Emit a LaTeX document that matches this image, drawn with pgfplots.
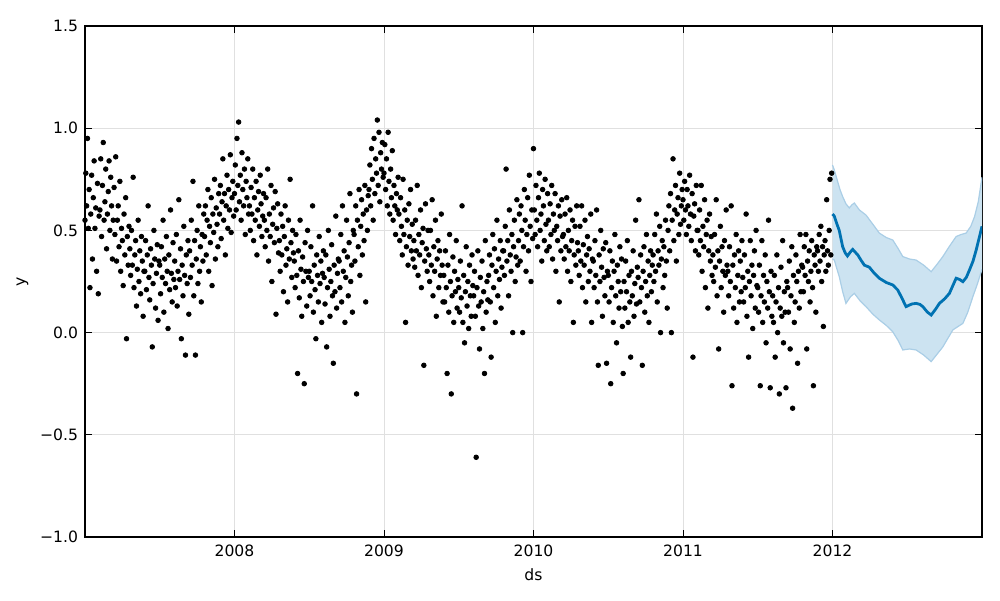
\documentclass[border=0pt]{standalone}
\usepackage{pgfplots}
\pgfplotsset{compat=1.18}
\usepackage{pgfplotstable}
\usepgfplotslibrary{fillbetween}
\usepackage{fontspec}
\setmainfont{DejaVu Sans}
\definecolor{fc}{RGB}{0,114,178}
\definecolor{band}{RGB}{204,227,241}
\definecolor{bandedge}{RGB}{170,206,230}
\definecolor{gridc}{RGB}{224,224,224}

\pgfplotstableread[row sep=\\]{
y\\
0.55\\ 0.78\\ 0.62\\ 0.95\\ 0.51\\ 0.70\\ 0.22\\ 0.58\\ 0.77\\ 0.36\\ 0.66\\ 0.84\\ 0.51\\ 0.61\\ 0.30\\ 0.73\\ 0.19\\ 0.57\\
0.60\\ 0.85\\ 0.47\\ 0.72\\ 0.93\\ 0.55\\ 0.64\\ 0.80\\ 0.41\\ 0.58\\ 0.69\\ 0.84\\ 0.50\\ 0.76\\ 0.62\\ 0.36\\ 0.55\\ 0.71\\
0.48\\ 0.86\\ 0.35\\ 0.55\\ 0.62\\ 0.42\\ 0.74\\ 0.30\\ 0.51\\ 0.45\\ 0.23\\ 0.58\\ 0.38\\ 0.66\\ -0.03\\ 0.47\\ 0.33\\ 0.52\\
0.41\\ 0.28\\ 0.50\\ 0.33\\ 0.76\\ 0.22\\ 0.38\\ 0.45\\ 0.13\\ 0.31\\ 0.55\\ 0.25\\ 0.40\\ 0.19\\ 0.47\\ 0.35\\ 0.08\\ 0.30\\
0.30\\ 0.45\\ 0.21\\ 0.38\\ 0.62\\ 0.27\\ 0.16\\ 0.41\\ 0.33\\ -0.07\\ 0.24\\ 0.50\\ 0.36\\ 0.12\\ 0.29\\ 0.43\\ 0.06\\ 0.35\\
0.33\\ 0.19\\ 0.42\\ 0.27\\ 0.55\\ 0.10\\ 0.36\\ 0.24\\ 0.47\\ 0.30\\ 0.02\\ 0.38\\ 0.21\\ 0.60\\ 0.29\\ 0.15\\ 0.44\\ 0.26\\
0.35\\ 0.22\\ 0.48\\ 0.13\\ 0.30\\ 0.65\\ 0.26\\ 0.41\\ -0.03\\ 0.33\\ 0.18\\ 0.52\\ 0.28\\ -0.11\\ 0.38\\ 0.24\\ 0.45\\ 0.09\\
0.40\\ 0.27\\ 0.55\\ 0.33\\ 0.74\\ 0.18\\ 0.45\\ -0.11\\ 0.36\\ 0.50\\ 0.24\\ 0.62\\ 0.30\\ 0.42\\ 0.15\\ 0.48\\ 0.35\\ 0.58\\
0.47\\ 0.62\\ 0.38\\ 0.55\\ 0.70\\ 0.30\\ 0.52\\ 0.44\\ 0.66\\ 0.23\\ 0.58\\ 0.49\\ 0.75\\ 0.36\\ 0.61\\ 0.53\\ 0.42\\ 0.68\\
0.58\\ 0.72\\ 0.46\\ 0.64\\ 0.85\\ 0.55\\ 0.68\\ 0.38\\ 0.62\\ 0.77\\ 0.51\\ 0.70\\ 0.60\\ 0.87\\ 0.49\\ 0.66\\ 0.74\\ 0.57\\
0.68\\ 0.82\\ 0.60\\ 0.95\\ 0.72\\ 1.03\\ 0.64\\ 0.77\\ 0.55\\ 0.88\\ 0.70\\ 0.62\\ 0.80\\ 0.48\\ 0.74\\ 0.66\\ 0.85\\ 0.58\\
0.62\\ 0.50\\ 0.71\\ 0.58\\ 0.80\\ 0.45\\ 0.66\\ 0.55\\ 0.74\\ 0.38\\ 0.60\\ 0.69\\ 0.52\\ 0.77\\ 0.63\\ 0.47\\ 0.57\\ 0.68\\
0.55\\ 0.42\\ 0.66\\ 0.50\\ 0.80\\ 0.35\\ 0.58\\ 0.47\\ 0.72\\ 0.25\\ 0.53\\ 0.61\\ 0.44\\ 0.69\\ 0.09\\ 0.51\\ 0.63\\ 0.39\\
0.45\\ 0.30\\ 0.58\\ 0.38\\ 0.52\\ 0.20\\ 0.47\\ 0.62\\ 0.33\\ 0.41\\ 0.15\\ 0.55\\ 0.36\\ 0.75\\ 0.44\\ 0.27\\ 0.50\\ 0.39\\
0.35\\ 0.22\\ 0.48\\ 0.28\\ -0.20\\ 0.40\\ 0.17\\ 0.55\\ 0.31\\ 0.08\\ 0.37\\ 0.25\\ -0.25\\ 0.44\\ 0.30\\ 0.13\\ 0.50\\ 0.27\\
0.30\\ 0.18\\ 0.42\\ 0.25\\ 0.62\\ 0.10\\ 0.33\\ 0.21\\ -0.03\\ 0.38\\ 0.28\\ 0.15\\ 0.47\\ 0.24\\ 0.35\\ 0.05\\ 0.29\\ 0.40\\
0.27\\ 0.14\\ 0.38\\ -0.07\\ 0.22\\ 0.50\\ 0.31\\ 0.08\\ 0.25\\ 0.43\\ 0.18\\ -0.15\\ 0.33\\ 0.20\\ 0.57\\ 0.12\\ 0.29\\ 0.36\\
0.35\\ 0.22\\ 0.48\\ 0.15\\ 0.62\\ 0.30\\ 0.40\\ 0.05\\ 0.27\\ 0.55\\ 0.37\\ 0.18\\ 0.44\\ 0.68\\ 0.25\\ 0.33\\ 0.10\\ 0.50\\
0.48\\ 0.35\\ 0.62\\ -0.30\\ 0.55\\ 0.42\\ 0.70\\ 0.28\\ 0.52\\ 0.65\\ 0.38\\ 0.58\\ 0.45\\ 0.72\\ 0.15\\ 0.60\\ 0.50\\ 0.67\\
0.70\\ 0.82\\ 0.62\\ 0.90\\ 0.75\\ 0.55\\ 0.95\\ 0.68\\ 0.85\\ 0.78\\ 1.04\\ 0.72\\ 0.98\\ 0.64\\ 0.88\\ 0.80\\ 0.93\\ 0.76\\
0.78\\ 0.92\\ 0.70\\ 0.85\\ 0.62\\ 0.98\\ 0.74\\ 0.58\\ 0.80\\ 0.66\\ 0.89\\ 0.55\\ 0.72\\ 0.62\\ 0.48\\ 0.68\\ 0.60\\ 0.76\\
0.58\\ 0.45\\ 0.66\\ 0.52\\ 0.38\\ 0.75\\ 0.48\\ 0.60\\ 0.05\\ 0.42\\ 0.55\\ 0.33\\ 0.63\\ 0.47\\ 0.70\\ 0.40\\ 0.53\\ 0.36\\
0.45\\ 0.32\\ 0.55\\ 0.40\\ 0.72\\ 0.28\\ 0.48\\ 0.38\\ 0.60\\ 0.22\\ 0.44\\ 0.51\\ -0.16\\ 0.35\\ 0.63\\ 0.41\\ 0.30\\ 0.50\\
0.38\\ 0.25\\ 0.50\\ 0.33\\ 0.65\\ 0.18\\ 0.42\\ 0.30\\ 0.55\\ 0.08\\ 0.36\\ 0.45\\ 0.22\\ 0.40\\ 0.28\\ 0.58\\ 0.33\\ 0.15\\
0.28\\ 0.15\\ 0.40\\ 0.22\\ -0.20\\ 0.33\\ 0.10\\ 0.48\\ 0.25\\ -0.30\\ 0.18\\ 0.37\\ 0.05\\ 0.30\\ 0.20\\ 0.45\\ 0.12\\ 0.26\\
0.22\\ 0.10\\ 0.35\\ 0.17\\ 0.62\\ 0.05\\ 0.28\\ -0.05\\ 0.20\\ 0.42\\ 0.13\\ 0.25\\ 0.02\\ 0.33\\ 0.18\\ 0.08\\ 0.38\\ 0.23\\
0.18\\ 0.30\\ 0.08\\ -0.61\\ 0.22\\ 0.40\\ 0.13\\ -0.08\\ 0.27\\ 0.15\\ 0.35\\ 0.02\\ 0.20\\ -0.20\\ 0.45\\ 0.10\\ 0.25\\ 0.16\\
0.28\\ 0.38\\ 0.15\\ -0.12\\ 0.33\\ 0.48\\ 0.22\\ 0.41\\ 0.05\\ 0.30\\ 0.55\\ 0.18\\ 0.36\\ 0.26\\ 0.45\\ 0.12\\ 0.32\\ 0.40\\
0.40\\ 0.28\\ 0.52\\ 0.80\\ 0.35\\ 0.45\\ 0.18\\ 0.60\\ 0.38\\ 0.30\\ 0.48\\ 0.00\\ 0.42\\ 0.55\\ 0.25\\ 0.37\\ 0.65\\ 0.33\\
0.45\\ 0.58\\ 0.35\\ 0.62\\ 0.50\\ 0.00\\ 0.42\\ 0.70\\ 0.55\\ 0.30\\ 0.48\\ 0.66\\ 0.40\\ 0.77\\ 0.52\\ 0.25\\ 0.60\\ 0.46\\
0.90\\ 0.60\\ 0.48\\ 0.72\\ 0.55\\ 0.42\\ 0.66\\ 0.78\\ 0.50\\ 0.58\\ 0.35\\ 0.70\\ 0.62\\ 0.45\\ 0.75\\ 0.53\\ 0.40\\ 0.68\\
0.55\\ 0.42\\ 0.63\\ 0.48\\ 0.72\\ 0.36\\ 0.58\\ 0.50\\ 0.68\\ 0.30\\ 0.52\\ 0.45\\ 0.62\\ 0.15\\ 0.57\\ 0.40\\ 0.65\\ 0.47\\
0.48\\ 0.36\\ 0.58\\ 0.42\\ 0.66\\ 0.30\\ 0.50\\ 0.40\\ 0.60\\ 0.25\\ 0.45\\ 0.55\\ 0.05\\ 0.38\\ 0.52\\ 0.33\\ 0.62\\ 0.44\\
0.40\\ 0.28\\ 0.52\\ 0.35\\ 0.62\\ 0.22\\ 0.43\\ 0.33\\ 0.55\\ 0.15\\ 0.38\\ 0.47\\ 0.25\\ 0.41\\ 0.30\\ 0.58\\ 0.05\\ 0.36\\
0.35\\ 0.22\\ 0.45\\ 0.28\\ 0.60\\ 0.15\\ -0.16\\ 0.38\\ 0.25\\ 0.50\\ 0.32\\ 0.08\\ 0.41\\ 0.27\\ 0.18\\ 0.44\\ -0.15\\ 0.30\\
0.28\\ 0.15\\ 0.40\\ -0.25\\ 0.22\\ 0.35\\ 0.05\\ 0.30\\ 0.48\\ 0.18\\ -0.05\\ 0.33\\ 0.25\\ 0.12\\ 0.42\\ 0.20\\ 0.36\\ 0.03\\
-0.20\\ 0.25\\ 0.12\\ 0.35\\ 0.20\\ 0.45\\ 0.05\\ 0.28\\ 0.15\\ -0.12\\ 0.30\\ 0.18\\ 0.40\\ 0.08\\ 0.24\\ 0.55\\ 0.14\\ 0.32\\
0.27\\ 0.65\\ 0.15\\ 0.38\\ 0.22\\ -0.16\\ 0.30\\ 0.42\\ 0.10\\ 0.25\\ 0.48\\ 0.18\\ 0.35\\ 0.05\\ 0.28\\ 0.40\\ 0.20\\ 0.33\\
0.38\\ 0.25\\ 0.48\\ 0.30\\ 0.58\\ 0.15\\ 0.40\\ 0.33\\ 0.52\\ 0.00\\ 0.36\\ 0.45\\ 0.22\\ 0.42\\ 0.28\\ 0.55\\ 0.35\\ 0.12\\
0.50\\ 0.62\\ 0.40\\ 0.68\\ 0.00\\ 0.55\\ 0.85\\ 0.45\\ 0.60\\ 0.72\\ 0.35\\ 0.58\\ 0.66\\ 0.48\\ 0.78\\ 0.53\\ 0.62\\ 0.70\\
0.65\\ 0.55\\ 0.74\\ 0.60\\ 0.48\\ 0.70\\ 0.62\\ 0.52\\ 0.77\\ 0.58\\ 0.45\\ 0.68\\ -0.12\\ 0.57\\ 0.63\\ 0.40\\ 0.72\\ 0.50\\
0.50\\ 0.38\\ 0.60\\ 0.45\\ 0.72\\ 0.30\\ 0.52\\ 0.42\\ 0.65\\ 0.22\\ 0.48\\ 0.55\\ 0.12\\ 0.40\\ 0.58\\ 0.35\\ 0.47\\ 0.28\\
0.38\\ 0.25\\ 0.48\\ 0.32\\ 0.65\\ 0.18\\ 0.40\\ -0.08\\ 0.35\\ 0.52\\ 0.22\\ 0.42\\ 0.30\\ 0.10\\ 0.45\\ 0.28\\ 0.60\\ 0.33\\
0.30\\ 0.18\\ 0.42\\ 0.25\\ 0.62\\ -0.26\\ 0.33\\ 0.12\\ 0.38\\ 0.22\\ 0.48\\ 0.05\\ 0.28\\ 0.40\\ 0.15\\ 0.35\\ 0.20\\ 0.45\\
0.27\\ 0.15\\ 0.38\\ 0.22\\ 0.58\\ 0.08\\ 0.30\\ -0.12\\ 0.25\\ 0.45\\ 0.18\\ 0.33\\ 0.02\\ 0.28\\ 0.40\\ 0.12\\ 0.50\\ 0.23\\
0.22\\ 0.10\\ 0.33\\ -0.26\\ 0.18\\ 0.45\\ 0.05\\ 0.28\\ 0.15\\ 0.38\\ -0.05\\ 0.25\\ 0.12\\ 0.55\\ 0.20\\ -0.27\\ 0.30\\ 0.08\\
0.18\\ 0.05\\ 0.28\\ -0.12\\ 0.15\\ 0.38\\ 0.00\\ 0.22\\ -0.30\\ 0.12\\ 0.32\\ 0.08\\ 0.45\\ -0.05\\ 0.20\\ 0.10\\ -0.27\\ 0.25\\
0.22\\ 0.10\\ 0.35\\ -0.08\\ 0.18\\ 0.42\\ -0.37\\ 0.28\\ 0.05\\ 0.15\\ 0.38\\ 0.25\\ -0.15\\ 0.30\\ 0.12\\ 0.48\\ 0.20\\ 0.33\\
0.32\\ 0.20\\ 0.42\\ 0.28\\ 0.48\\ -0.08\\ 0.35\\ 0.25\\ 0.40\\ 0.15\\ 0.30\\ 0.45\\ 0.22\\ -0.26\\ 0.38\\ 0.33\\ 0.10\\ 0.42\\
0.40\\ 0.30\\ 0.48\\ 0.35\\ 0.52\\ 0.25\\ 0.42\\ 0.03\\ 0.38\\ 0.45\\ 0.30\\ 0.65\\ 0.40\\ 0.33\\ 0.50\\ 0.75\\ 0.38\\ 0.78\\
}\obs

\begin{document}
\begin{tikzpicture}
\begin{axis}[
  scale only axis,
  width=448.5pt, height=255.5pt,
  xmin=2007, xmax=2013, ymin=-1, ymax=1.5,
  xtick={2008,2009,2010,2011,2012},
  xticklabels={2008,2009,2010,2011,2012},
  ytick={-1,-0.5,0,0.5,1,1.5},
  yticklabels={−1.0,−0.5,0.0,0.5,1.0,1.5},
  tick align=inside,
  major tick length=3.5pt,
  tick style={black, line width=0.5pt},
  axis line style={black, line width=0.6pt},
  grid=major,
  major grid style={gridc, line width=0.5pt},
  every tick label/.append style={font=\fontsize{7.8}{9}\selectfont},
  xticklabel style={yshift=-0.5pt},
  label style={font=\fontsize{7.8}{9}\selectfont},
  xlabel={ds}, ylabel={y},
  xlabel style={yshift=1pt},
  ylabel style={yshift=-1pt},
]
\addplot[only marks, mark=*, mark size=1.15pt, black] table[x expr=2007+\coordindex/180, y=y]{\obs};

\addplot[name path=up, bandedge, line width=0.6pt] coordinates {
(2012.000,0.82) (2012.010,0.80) (2012.030,0.75) (2012.050,0.70) (2012.068,0.665) (2012.090,0.63)
(2012.112,0.61) (2012.130,0.625) (2012.146,0.634) (2012.180,0.60) (2012.224,0.575) (2012.270,0.53)
(2012.313,0.487) (2012.360,0.465) (2012.403,0.453) (2012.440,0.41) (2012.470,0.372) (2012.515,0.36)
(2012.559,0.355) (2012.610,0.33) (2012.660,0.298) (2012.700,0.335) (2012.738,0.372) (2012.780,0.42)
(2012.827,0.470) (2012.860,0.480) (2012.894,0.487) (2012.925,0.52) (2012.950,0.567) (2012.975,0.64) (2013.000,0.76)};
\addplot[name path=lo, bandedge, line width=0.6pt] coordinates {
(2012.000,0.36) (2012.012,0.355) (2012.030,0.31) (2012.045,0.274) (2012.068,0.20) (2012.090,0.143)
(2012.120,0.175) (2012.146,0.192) (2012.185,0.155) (2012.224,0.127) (2012.270,0.09) (2012.313,0.062)
(2012.360,0.035) (2012.403,0.004) (2012.440,-0.04) (2012.470,-0.085) (2012.515,-0.08) (2012.559,-0.085)
(2012.610,-0.11) (2012.660,-0.142) (2012.700,-0.105) (2012.738,-0.07) (2012.770,-0.03) (2012.805,0.013)
(2012.840,0.03) (2012.872,0.045) (2012.905,0.10) (2012.939,0.176) (2012.970,0.24) (2013.000,0.31)};
\addplot[band] fill between[of=up and lo];

\addplot[fc, line width=1.4pt] coordinates {
(2012.000,0.58) (2012.012,0.57) (2012.030,0.53) (2012.045,0.50) (2012.068,0.42) (2012.085,0.39) (2012.100,0.375)
(2012.120,0.395) (2012.135,0.407) (2012.150,0.395) (2012.169,0.38) (2012.190,0.355) (2012.213,0.33)
(2012.246,0.32) (2012.280,0.29) (2012.313,0.266) (2012.360,0.245) (2012.403,0.233) (2012.437,0.208)
(2012.470,0.16) (2012.492,0.127) (2012.530,0.14) (2012.559,0.143) (2012.585,0.138) (2012.604,0.127)
(2012.635,0.10) (2012.660,0.086) (2012.690,0.115) (2012.715,0.143) (2012.750,0.165) (2012.782,0.192)
(2012.805,0.23) (2012.827,0.266) (2012.850,0.26) (2012.872,0.249) (2012.895,0.27) (2012.916,0.306)
(2012.940,0.35) (2012.961,0.404) (2012.980,0.46) (2013.000,0.52)};
\end{axis}
\pgfresetboundingbox
\path ([xshift=-42.5pt,yshift=-31.5pt]current axis.south west) rectangle ([xshift=9pt,yshift=13pt]current axis.north east);
\end{tikzpicture}
\end{document}
